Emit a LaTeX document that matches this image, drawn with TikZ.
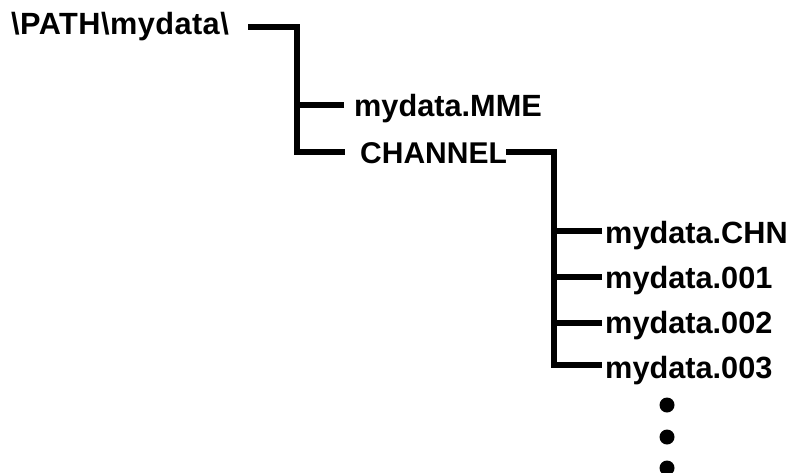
\documentclass[tikz,border=0pt]{standalone}
\usepackage{fontspec}
\setmainfont{Liberation Sans}
\begin{document}
\begin{tikzpicture}[x=1pt,y=-1pt,
  label/.style={anchor=base west,inner sep=0pt,font=\fontsize{30.7}{36}\selectfont\bfseries},
  tree/.style={line width=5.5pt,line join=miter,black},
  dot/.style={fill=black}]
\useasboundingbox (0,0) rectangle (791,472);
% labels
\node[label] (root) at (11,34) {\addfontfeature{LetterSpace=1.5}\textbackslash PATH\textbackslash mydata\textbackslash};
\node[label] (mme) at (354,116) {mydata.MME};
\node[label,font=\fontsize{30}{36}\selectfont\bfseries] (chan) at (360,163) {CHANNEL};
\node[label] (chn) at (605,243) {mydata.CHN};
\node[label] (f1) at (605,288) {mydata.001};
\node[label] (f2) at (605,333) {mydata.002};
\node[label] (f3) at (605,378) {mydata.003};
% connector ends
\coordinate (rootR) at (248,27);
\coordinate (b1) at (297,152);
\coordinate (mmeL) at (344,105);
\coordinate (chanL) at (345,152);
\coordinate (chanR) at (506,152);
\coordinate (b2) at (554,365);
\coordinate (chnL) at (602,231);
\coordinate (f1L) at (602,277);
\coordinate (f2L) at (602,323);
\coordinate (f3L) at (602,365);
% tree
\draw[tree] (rootR) -| (b1) -- (chanL);
\draw[tree] (mmeL) -- (mmeL -| b1);
\draw[tree] (chanR) -| (b2) -- (f3L);
\draw[tree] (chnL) -- (chnL -| b2);
\draw[tree] (f1L) -- (f1L -| b2);
\draw[tree] (f2L) -- (f2L -| b2);
% dots
\fill[dot] (667,405) circle[radius=7.5pt];
\fill[dot] (667,437) circle[radius=7.5pt];
\fill[dot] (667,468) circle[radius=7.5pt];
\end{tikzpicture}
\end{document}
